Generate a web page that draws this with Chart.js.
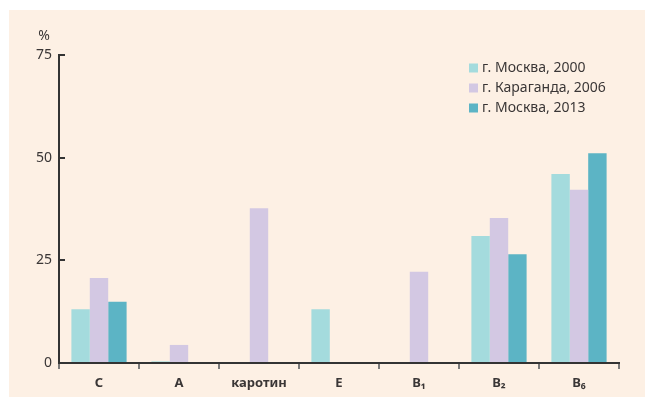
<!DOCTYPE html>
<html>
<head>
<meta charset="utf-8">
<script src="https://cdn.jsdelivr.net/npm/chart.js@4"></script>
<style>
  body { margin: 0; background: #ffffff; }
  #panel { position: absolute; left: 9px; top: 10px; width: 636px; height: 387px; background: #fdf0e4; }
</style>
</head>
<body>
<div id="panel"><canvas id="vitaminChart" width="636" height="387"></canvas></div>
<script>
const categories = ['С', 'А', 'каротин', 'Е', 'В₁', 'В₂', 'В₆'];
const seriesNames = ['г. Москва, 2000', 'г. Караганда, 2006', 'г. Москва, 2013'];
const moscow2000 = [13.1, 0.4, null, 13.1, null, 30.9, 46.0];
const karaganda2006 = [20.7, 4.4, 37.7, null, 22.2, 35.3, 42.2];
const moscow2013 = [14.9, null, null, null, null, 26.5, 51.1];
const yTicks = [0, 25, 50, 75];

const colors = ['#a4dbdd', '#d3c8e3', '#5cb4c5'];
const textColor = '#3a3636';

const legendInside = {
    id: 'legendInside',
    afterDraw(chart) {
        const ctx = chart.ctx;
        ctx.save();
        ctx.font = '14px "Noto Sans"';
        ctx.textBaseline = 'middle';
        chart.data.datasets.forEach((ds, i) => {
            const y = 58 + i * 20;
            ctx.fillStyle = ds.backgroundColor;
            ctx.fillRect(460, y - 4.5, 9, 9);
            ctx.fillStyle = textColor;
            ctx.fillText(ds.label, 473, y);
        });
        // unit label above the axis
        ctx.textAlign = 'center';
        ctx.fillText('%', 35, 26);
        ctx.restore();
    }
};

new Chart(document.getElementById('vitaminChart'), {
    type: 'bar',
    data: {
        labels: categories,
        datasets: [
            { label: seriesNames[0], data: moscow2000, backgroundColor: colors[0] },
            { label: seriesNames[1], data: karaganda2006, backgroundColor: colors[1] },
            { label: seriesNames[2], data: moscow2013, backgroundColor: colors[2] }
        ]
    },
    options: {
        responsive: false,
        animation: false,
        layout: { padding: { left: 0, top: 45, right: 26, bottom: 0 } },
        datasets: {
            bar: { categoryPercentage: 0.69, barPercentage: 1.0 }
        },
        plugins: {
            legend: { display: false },
            tooltip: { enabled: false }
        },
        scales: {
            x: {
                grid: {
                    offset: true,
                    drawOnChartArea: false,
                    tickLength: 6,
                    lineWidth: 2,
                    color: ctx => ctx.index === categories.length ? 'rgba(0,0,0,0)' : '#7a7a7a'
                },
                border: { color: '#333333', width: 2 },
                ticks: {
                    color: textColor,
                    padding: 6,
                    font: { family: '"Noto Sans"', size: 13, weight: 'bold' }
                },
                afterFit: scale => { scale.height = 34; }
            },
            y: {
                min: 0,
                max: 75,
                afterBuildTicks: scale => { scale.ticks = yTicks.map(v => ({ value: v })); },
                grid: {
                    drawOnChartArea: false,
                    tickLength: -6,
                    lineWidth: 2,
                    color: '#333333'
                },
                border: { color: '#333333', width: 2 },
                ticks: {
                    color: textColor,
                    padding: 13,
                    font: { family: '"Noto Sans"', size: 14 }
                },
                afterFit: scale => { scale.width = 50; }
            }
        }
    },
    plugins: [legendInside]
});
</script>
</body>
</html>
